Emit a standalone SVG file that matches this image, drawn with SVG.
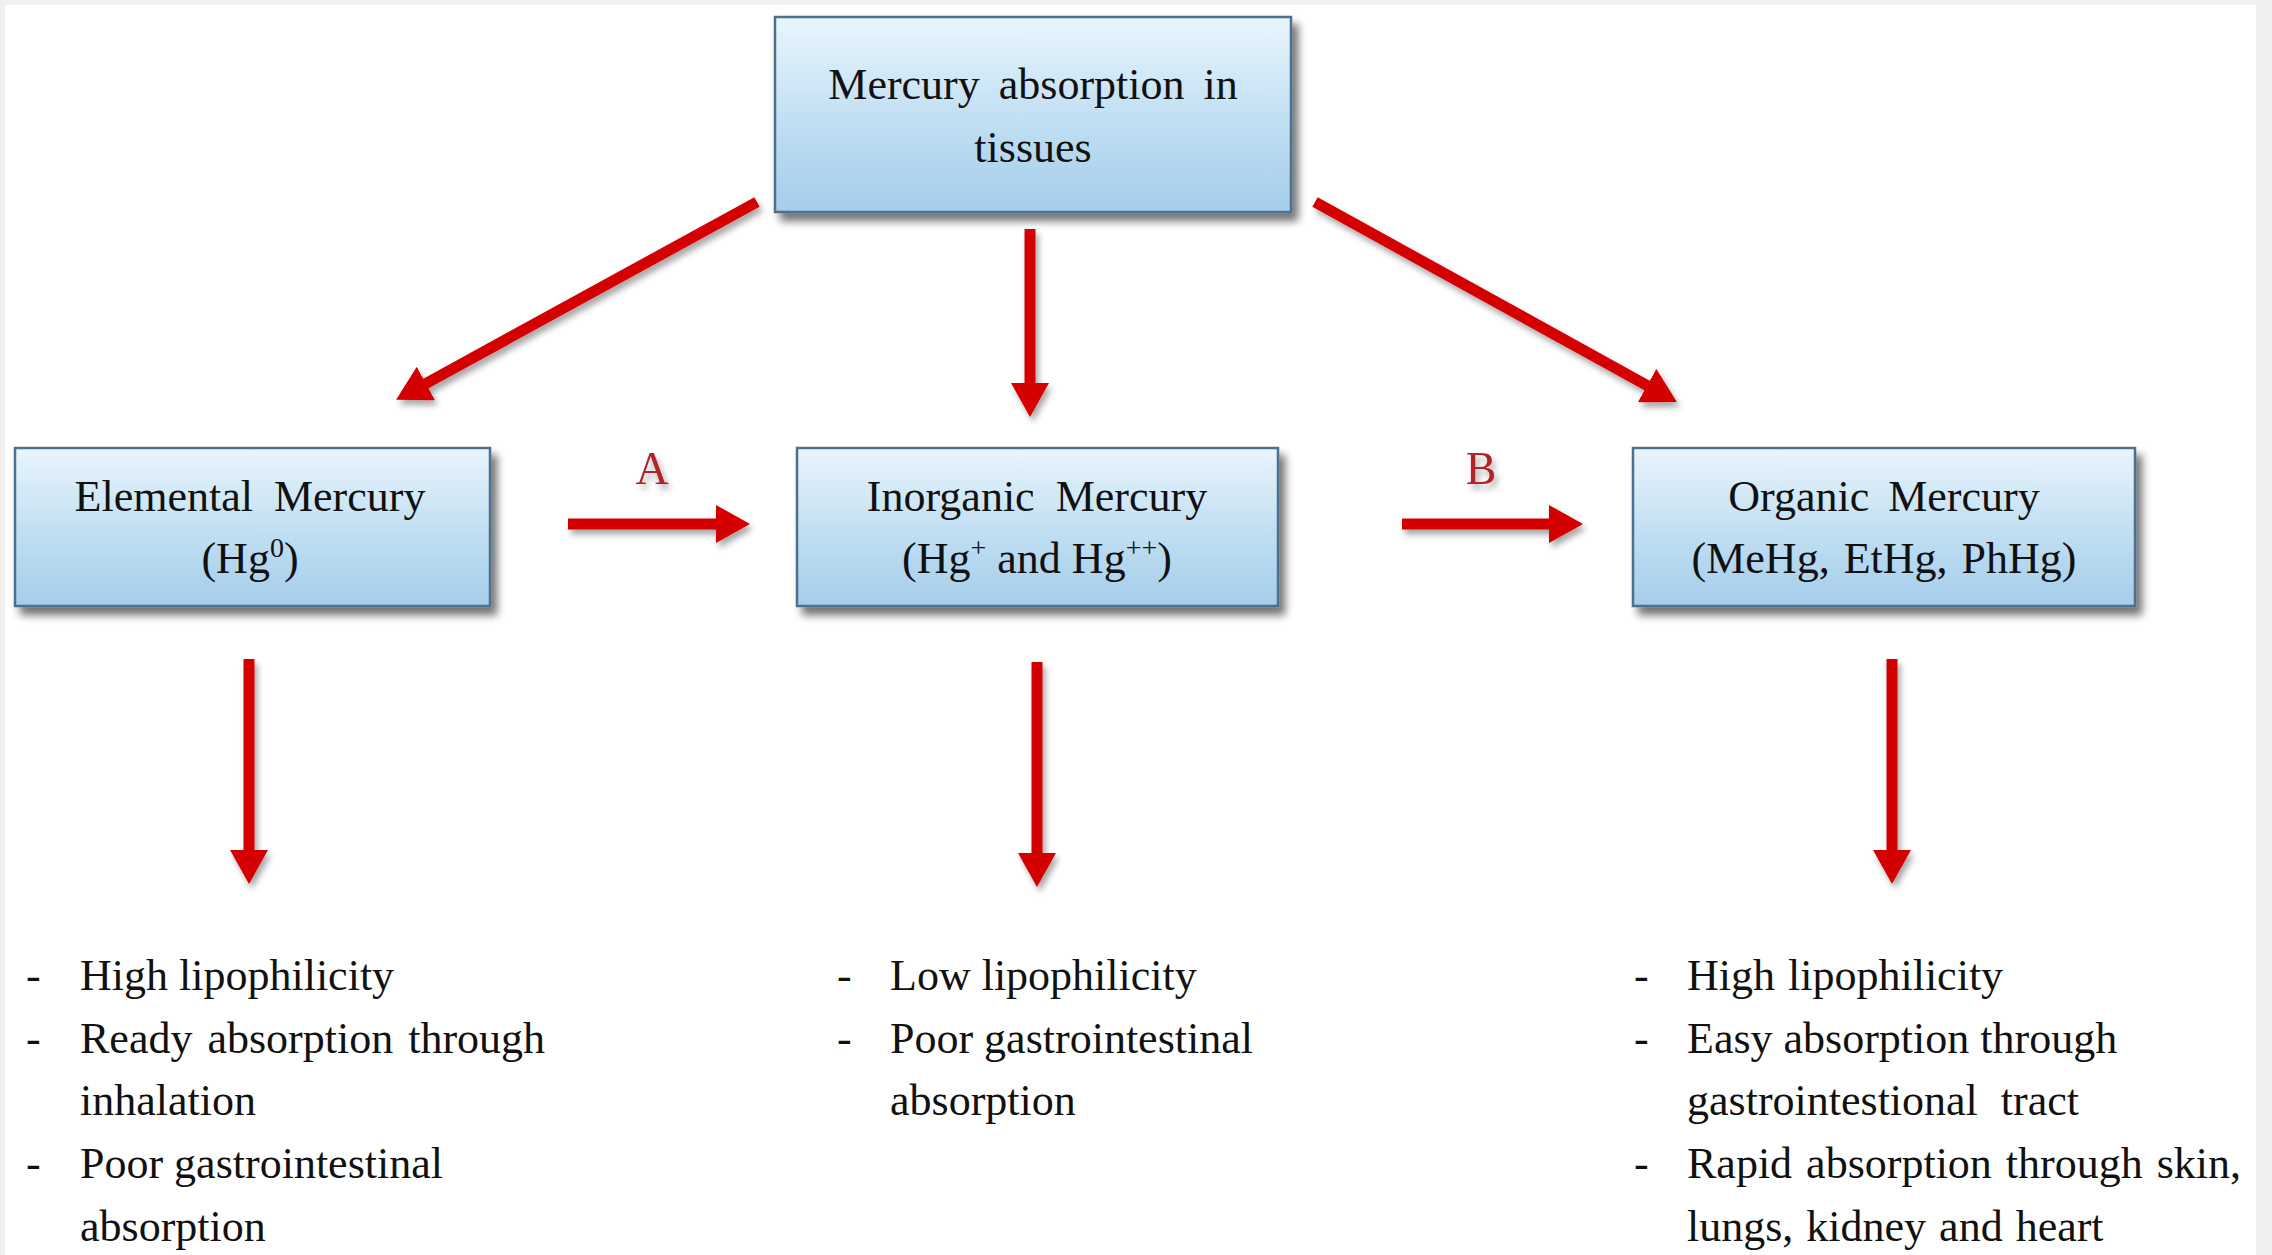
<svg xmlns="http://www.w3.org/2000/svg" width="2272" height="1255" viewBox="0 0 2272 1255">
<defs>
<linearGradient id="boxg" x1="0" y1="0" x2="0" y2="1">
<stop offset="0" stop-color="#e8f5fc"/>
<stop offset="0.6" stop-color="#bcdcf1"/>
<stop offset="1" stop-color="#a6cdea"/>
</linearGradient>
<filter id="bshadow" x="-10%" y="-20%" width="125%" height="150%">
<feGaussianBlur in="SourceAlpha" stdDeviation="4"/>
<feOffset dx="6" dy="8" result="ob"/>
<feComponentTransfer><feFuncA type="linear" slope="0.55"/></feComponentTransfer>
<feMerge><feMergeNode/><feMergeNode in="SourceGraphic"/></feMerge>
</filter>
<filter id="ashadow" x="-30%" y="-30%" width="160%" height="160%">
<feGaussianBlur in="SourceAlpha" stdDeviation="3"/>
<feOffset dx="3" dy="5" result="ob"/>
<feComponentTransfer><feFuncA type="linear" slope="0.35"/></feComponentTransfer>
<feMerge><feMergeNode/><feMergeNode in="SourceGraphic"/></feMerge>
</filter>
<marker id="head" viewBox="0 0 34 38" refX="1" refY="19" markerWidth="34" markerHeight="38" markerUnits="userSpaceOnUse" orient="auto">
<path d="M0,0 L34,19 L0,38 Z" fill="#d40000"/>
</marker>
</defs>
<style>
.box{fill:url(#boxg);stroke:#4d6f8d;stroke-width:2.5;}
.t{font-family:"Liberation Serif","Times New Roman",serif;font-size:44px;fill:#111;}
.c{text-anchor:middle;}
.lab{font-family:"Liberation Serif","Times New Roman",serif;font-size:46px;fill:#b3242a;text-anchor:middle;}
.arr{stroke:#d40000;stroke-width:11;fill:none;marker-end:url(#head);}
</style>
<rect x="0" y="0" width="2272" height="1255" fill="#f0f0f0"/>
<rect x="5" y="5" width="2251" height="1250" fill="#ffffff"/>

<g id="connectors" filter="url(#ashadow)">
<path class="arr" d="M757,202 L425,384"/>
<path class="arr" d="M1030,229 L1030,384"/>
<path class="arr" d="M1315,202 L1648,386"/>
<path class="arr" d="M568,524 L717,524"/>
<path class="arr" d="M1402,524 L1550,524"/>
<path class="arr" d="M249,659 L249,851"/>
<path class="arr" d="M1037,662 L1037,854"/>
<path class="arr" d="M1892,659 L1892,851"/>
<text class="lab" x="652" y="484">A</text>
<text class="lab" x="1481" y="484">B</text>
</g>

<g id="node-top">
<rect class="box" x="775" y="17" width="516" height="195" filter="url(#bshadow)"/>
<text class="t c" x="1033" y="99" word-spacing="8">Mercury absorption in</text>
<text class="t c" x="1033" y="162">tissues</text>
</g>

<g id="node-elemental">
<rect class="box" x="15" y="448" width="475" height="158" filter="url(#bshadow)"/>
<text class="t c" x="250" y="511" word-spacing="10">Elemental Mercury</text>
<text class="t c" x="250" y="573">(Hg<tspan font-size="28" dy="-16">0</tspan><tspan dy="16">)</tspan></text>
</g>

<g id="node-inorganic">
<rect class="box" x="797" y="448" width="481" height="158" filter="url(#bshadow)"/>
<text class="t c" x="1037" y="511" word-spacing="10">Inorganic Mercury</text>
<text class="t c" x="1037" y="573">(Hg<tspan font-size="28" dy="-16">+</tspan><tspan dy="16"> and Hg</tspan><tspan font-size="28" dy="-16">++</tspan><tspan dy="16">)</tspan></text>
</g>

<g id="node-organic">
<rect class="box" x="1633" y="448" width="502" height="158" filter="url(#bshadow)"/>
<text class="t c" x="1884" y="511" word-spacing="8">Organic Mercury</text>
<text class="t c" x="1884" y="573" word-spacing="3">(MeHg, EtHg, PhHg)</text>
</g>

<g id="list-elemental">
<text class="t" x="26" y="990">-</text>
<text class="t" x="80" y="990">High lipophilicity</text>
<text class="t" x="26" y="1053">-</text>
<text class="t" x="80" y="1053" word-spacing="4">Ready absorption through</text>
<text class="t" x="80" y="1115">inhalation</text>
<text class="t" x="26" y="1178">-</text>
<text class="t" x="80" y="1178">Poor gastrointestinal</text>
<text class="t" x="80" y="1241">absorption</text>
</g>

<g id="list-inorganic">
<text class="t" x="837" y="990">-</text>
<text class="t" x="890" y="990">Low lipophilicity</text>
<text class="t" x="837" y="1053">-</text>
<text class="t" x="890" y="1053">Poor gastrointestinal</text>
<text class="t" x="890" y="1115">absorption</text>
</g>

<g id="list-organic">
<text class="t" x="1634" y="990">-</text>
<text class="t" x="1687" y="990" word-spacing="2">High lipophilicity</text>
<text class="t" x="1634" y="1053">-</text>
<text class="t" x="1687" y="1053">Easy absorption through</text>
<text class="t" x="1687" y="1115" word-spacing="12">gastrointestional tract</text>
<text class="t" x="1634" y="1178">-</text>
<text class="t" x="1687" y="1178" word-spacing="3">Rapid absorption through skin,</text>
<text class="t" x="1687" y="1241" word-spacing="2">lungs, kidney and heart</text>
</g>
</svg>
